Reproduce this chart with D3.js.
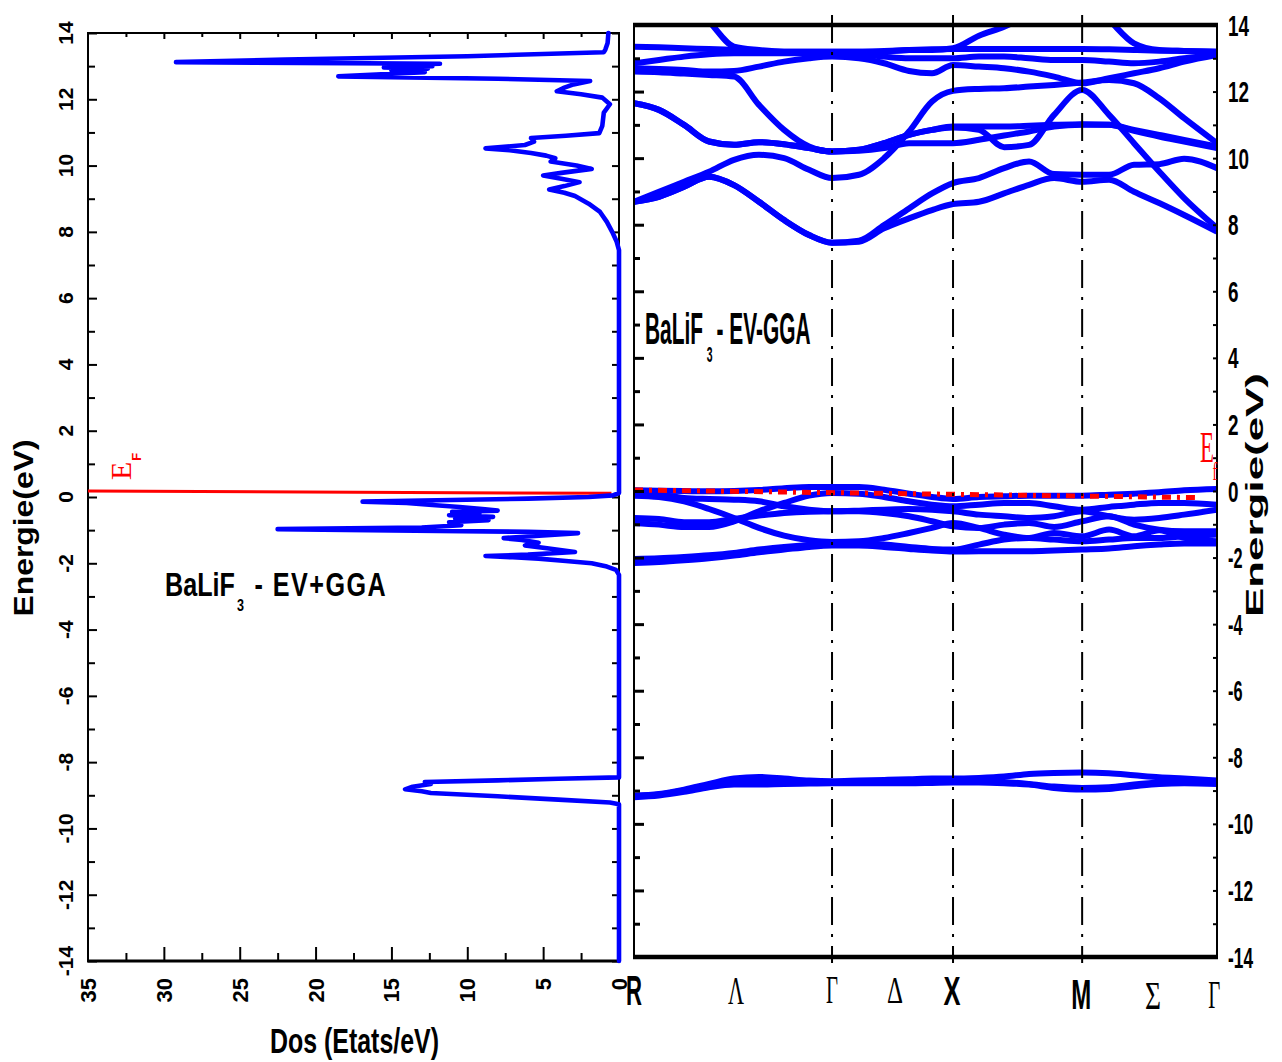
<!DOCTYPE html>
<html><head><meta charset="utf-8">
<script src="https://cdn.jsdelivr.net/npm/d3@7"></script>
<style>body{margin:0;background:#fff}svg{display:block}</style>
</head><body>
<svg id="chart" width="1282" height="1062"></svg>
<script>
// ================= DATA =================
// Left panel : density of states (E in eV, DOS in states/eV)
const dosEnergy = [14.0,13.7,13.5,13.42,13.3,13.2,13.12,13.07,13.03,13.0,12.96,12.92,12.87,12.82,12.75,12.69,12.62,12.55,12.45,12.35,12.24,12.15,12.05,11.85,11.6,11.2,10.98,10.9,10.83,10.72,10.62,10.52,10.46,10.38,10.3,10.22,10.12,10.0,9.9,9.78,9.7,9.6,9.5,9.38,9.28,9.18,9.08,8.85,8.6,8.3,8.0,7.7,7.45,
  0.12,0.05,0.0,-0.05,-0.1,-0.14,-0.18,-0.24,-0.3,-0.36,-0.41,-0.45,-0.5,-0.55,-0.6,-0.65,-0.7,-0.76,-0.85,-0.92,-0.97,-1.01,-1.05,-1.09,-1.16,-1.24,-1.3,-1.38,-1.46,-1.56,-1.66,-1.74,-1.78,-1.82,-1.86,-1.93,-2.0,-2.1,-2.2,-2.35,
  -8.46,-8.5,-8.55,-8.6,-8.66,-8.74,-8.82,-8.88,-8.93,-9.03,-9.13,-9.22,-9.27,-14.0];
const dosValue = [0.7,0.75,0.9,1.0,10,22,29.2,11.8,15.2,12.3,15.5,12.6,15.0,12.8,16.0,18.5,8.0,1.9,3.0,3.6,4.1,2.5,1.1,0.6,1.0,1.1,1.3,3.5,5.8,5.6,6.2,8.8,7.2,5.8,4.8,4.2,4.5,2.8,1.8,3.8,5.0,3.8,2.6,3.6,4.6,3.6,2.9,2.0,1.25,0.8,0.45,0.15,0.0,
  0.0,0.4,2.0,6.0,12.0,16.9,14.0,12.3,10.5,9.0,8.0,11.0,9.2,11.2,8.3,10.8,8.6,11.2,10.4,13.0,22.5,15.0,6.0,2.7,5.0,7.6,6.4,5.3,6.2,4.5,2.9,6.0,8.8,7.0,5.3,3.5,1.8,0.8,0.2,0.0,
  0.0,4.0,8.0,12.8,12.4,13.6,14.1,13.0,12.4,8.0,4.0,0.6,0.0,0.0];
const fermiDos = [35, 0.5];
const fermiDosE = [0.18, 0.11];
const dosTicks = [35, 30, 25, 20, 15, 10, 5, 0];
const energyTicks = [14, 12, 10, 8, 6, 4, 2, 0, -2, -4, -6, -8, -10, -12, -14];

// Right panel : band structure along R-Λ-Γ-Δ-X-M-Σ-Γ
const kSymPos = [0, 1.0, 1.611, 2.263, 2.944];            // R, Γ, X, M, Γ
const kLabels = ["R", "Λ", "Γ", "Δ", "X", "M", "Σ", "Γ"];
const kLabelPos = [0, 0.515, 1.0, 1.318, 1.606, 2.258, 2.621, 2.93];
const kGrid = [0,0.126,0.253,0.379,0.505,0.631,0.758,0.884,1.0,1.136,1.263,1.389,1.505,1.611,1.742,1.869,1.995,2.121,2.263,2.399,2.525,2.652,2.778,2.944];

// conduction bands
const cb1 = [8.69,8.84,9.14,9.44,9.19,8.69,8.14,7.69,7.46,7.49,7.89,8.19,8.44,8.62,8.69,8.94,9.2,9.4,9.29,9.35,8.99,8.65,8.29,7.79];
const cb2 = [8.69,8.84,9.14,9.44,9.19,8.69,8.14,7.69,7.46,7.52,7.99,8.49,8.94,9.25,9.4,9.7,9.9,9.52,9.5,9.5,9.8,9.82,9.98,9.7];
const cb3 = [8.69,8.99,9.29,9.59,9.95,10.1,10.0,9.65,9.4,9.5,10.0,10.8,11.7,12.02,12.08,12.1,12.15,12.2,12.27,12.35,12.25,11.8,11.2,10.45];
const cb4 = [11.65,11.45,11.0,10.5,10.4,10.48,10.42,10.3,10.2,10.25,10.45,10.7,10.85,10.92,10.85,10.33,10.4,11.3,12.05,11.3,10.45,9.6,8.8,7.9];
const cb5 = [12.6,12.58,12.54,12.5,12.45,11.6,10.85,10.35,10.2,10.22,10.3,10.45,10.45,10.45,10.55,10.68,10.8,10.95,11.0,11.0,10.85,10.7,10.55,10.35];
const cb6 = [11.65,11.45,11.0,10.5,10.4,10.48,10.42,10.3,10.2,10.25,10.45,10.7,10.85,10.95,10.95,10.95,10.97,11.0,11.02,11.0,10.82,10.65,10.5,10.3];
const cb7 = [13.35,13.33,13.3,13.28,13.25,13.22,13.2,13.2,13.2,13.2,13.22,13.25,13.27,13.28,13.28,13.28,13.28,13.28,13.28,13.27,13.25,13.23,13.22,13.2];
const cb8 = [12.85,12.95,13.05,13.12,13.15,13.15,13.15,13.15,13.15,13.12,13.05,13.0,13.0,13.0,13.05,13.05,13.0,12.95,12.95,12.9,12.85,12.9,13.0,13.1];
const cb9 = [12.7,12.68,12.65,12.6,12.62,12.75,12.9,13.0,13.05,13.0,12.85,12.62,12.55,12.8,12.75,12.7,12.6,12.45,12.25,12.4,12.55,12.7,12.9,13.1];
const cb10 = [16.2,15.5,14.8,14.1,13.35,13.25,13.2,13.2,13.2,13.2,13.2,13.25,13.25,13.3,13.68,13.95,14.3,14.7,15.1,15.5,15.9,16.3,16.7,17.0];
const cb11 = [15.5,15.5,15.5,15.5,15.5,15.5,15.5,15.5,15.5,15.5,15.5,15.5,15.5,15.5,15.5,15.5,15.5,15.5,14.9,14.15,13.45,13.25,13.22,13.2];
// valence bands
const vb1 = [0.02,0.01,0.0,-0.01,0.0,0.03,0.08,0.12,0.12,0.12,0.04,-0.08,-0.18,-0.24,-0.18,-0.16,-0.14,-0.14,-0.14,-0.11,-0.08,-0.04,0.02,0.06];
const vb2 = [-0.96,-1.01,-1.08,-1.08,-0.91,-0.61,-0.36,-0.14,-0.06,-0.08,-0.18,-0.31,-0.41,-0.46,-0.41,-0.36,-0.36,-0.46,-0.56,-0.48,-0.41,-0.36,-0.36,-0.41];
const vb3 = [-0.06,-0.11,-0.21,-0.24,-0.26,-0.31,-0.46,-0.56,-0.61,-0.59,-0.56,-0.54,-0.56,-0.61,-0.71,-0.76,-0.81,-0.76,-0.61,-0.76,-0.86,-0.81,-0.71,-0.56];
const vb4 = [-0.81,-0.84,-0.94,-0.94,-0.84,-0.74,-0.66,-0.62,-0.61,-0.61,-0.66,-0.76,-0.91,-1.06,-1.11,-1.01,-0.96,-1.08,-0.91,-0.76,-1.01,-1.16,-1.21,-1.21];
const vb5 = [-0.14,-0.18,-0.31,-0.54,-0.81,-1.11,-1.34,-1.48,-1.53,-1.51,-1.41,-1.26,-1.11,-0.96,-1.11,-1.31,-1.41,-1.26,-1.36,-1.16,-1.36,-1.18,-1.41,-1.51];
const vb6 = [-2.04,-2.02,-1.98,-1.93,-1.86,-1.76,-1.68,-1.62,-1.58,-1.58,-1.61,-1.68,-1.74,-1.76,-1.61,-1.46,-1.41,-1.46,-1.51,-1.46,-1.41,-1.41,-1.36,-1.31];
const vb7 = [-2.16,-2.13,-2.08,-2.02,-1.94,-1.84,-1.76,-1.68,-1.64,-1.64,-1.68,-1.74,-1.79,-1.82,-1.81,-1.81,-1.81,-1.79,-1.76,-1.73,-1.66,-1.61,-1.58,-1.58];
// semi-core bands
const sc1 = [-9.15,-9.10,-8.97,-8.80,-8.64,-8.59,-8.64,-8.70,-8.72,-8.70,-8.68,-8.66,-8.64,-8.64,-8.62,-8.58,-8.50,-8.47,-8.46,-8.48,-8.54,-8.60,-8.64,-8.70];
const sc2 = [-9.20,-9.15,-9.04,-8.90,-8.82,-8.82,-8.80,-8.79,-8.78,-8.78,-8.78,-8.78,-8.77,-8.76,-8.76,-8.78,-8.82,-8.92,-8.97,-8.95,-8.87,-8.80,-8.78,-8.80];
const sc3 = [-9.17,-9.12,-9.00,-8.84,-8.72,-8.70,-8.72,-8.74,-8.74,-8.74,-8.73,-8.72,-8.70,-8.70,-8.72,-8.74,-8.80,-8.88,-8.92,-8.90,-8.82,-8.76,-8.74,-8.76];
const fermiBandK = [0, 2.86];
const fermiBandE = [0.03, -0.2];

const bands = [cb1,cb2,cb3,cb4,cb5,cb6,cb7,cb8,cb9,cb10,cb11,vb1,vb2,vb3,vb4,vb5,vb6,vb7,sc1,sc2,sc3];

// ================= DRAWING =================
const svg = d3.select("#chart");
const SANS = "'Liberation Sans', Arial, sans-serif";
const SERIF = "'Liberation Serif', 'Times New Roman', serif";
const BLUE = "#0000ff", RED = "#ff0000";

// ---------- left panel (DOS) ----------
const xL = d3.scaleLinear().domain([35, 0]).range([88, 619]);
const yL = d3.scaleLinear().domain([14, -14]).range([33, 961]);
const allE = d3.range(-14, 15, 1);
const evenE = allE.filter(v => v % 2 === 0), oddE = allE.filter(v => v % 2 !== 0);

function ticks(g, axis, w) { g.call(axis); g.select(".domain").remove(); g.selectAll("line").attr("stroke", "#000").attr("stroke-width", w || 2); }

svg.append("g").attr("transform", "translate(88,0)").call(ticks, d3.axisRight(yL).tickValues(evenE).tickSize(9).tickFormat(""));
svg.append("g").attr("transform", "translate(88,0)").call(ticks, d3.axisRight(yL).tickValues(oddE).tickSize(7).tickFormat(""));
svg.append("g").attr("transform", "translate(619,0)").call(ticks, d3.axisLeft(yL).tickValues(allE).tickSize(7).tickFormat(""));
const dosMajor = [30, 25, 20, 15, 10, 5], dosMinor = [32.5, 27.5, 22.5, 17.5, 12.5, 7.5, 2.5];
svg.append("g").attr("transform", "translate(0,33)").call(ticks, d3.axisBottom(xL).tickValues(dosMajor).tickSize(6).tickFormat(""));
svg.append("g").attr("transform", "translate(0,33)").call(ticks, d3.axisBottom(xL).tickValues(dosMinor).tickSize(4).tickFormat(""));
svg.append("g").attr("transform", "translate(0,961)").call(ticks, d3.axisTop(xL).tickValues(dosMajor).tickSize(14).tickFormat(""));
svg.append("g").attr("transform", "translate(0,961)").call(ticks, d3.axisTop(xL).tickValues(dosMinor).tickSize(8).tickFormat(""));

// frame
svg.append("line").attr("x1", 88).attr("x2", 88).attr("y1", 32).attr("y2", 962).attr("stroke", "#000").attr("stroke-width", 2);
svg.append("line").attr("x1", 87).attr("x2", 620).attr("y1", 33).attr("y2", 33).attr("stroke", "#000").attr("stroke-width", 2);
svg.append("line").attr("x1", 87).attr("x2", 620).attr("y1", 961).attr("y2", 961).attr("stroke", "#000").attr("stroke-width", 3);
svg.append("line").attr("x1", 619).attr("x2", 619).attr("y1", 32).attr("y2", 962).attr("stroke", "#000").attr("stroke-width", 2);

// red fermi line
svg.append("path")
  .datum(d3.zip(fermiDos, fermiDosE))
  .attr("d", d3.line().x(d => xL(d[0])).y(d => yL(d[1])))
  .attr("stroke", RED).attr("stroke-width", 3).attr("fill", "none");

// DOS curve
svg.append("path")
  .datum(d3.zip(dosValue, dosEnergy))
  .attr("d", d3.line().x(d => xL(d[0])).y(d => yL(d[1])))
  .attr("stroke", BLUE).attr("stroke-width", 4.6).attr("fill", "none")
  .attr("stroke-linejoin", "round").attr("stroke-linecap", "round");

// left tick labels
svg.append("g").selectAll("text").data(energyTicks).join("text")
  .attr("transform", d => `translate(73,${yL(d)}) rotate(-90)`)
  .attr("text-anchor", "middle").attr("font-family", SANS).attr("font-weight", "bold")
  .attr("font-size", 21).text(d => d);
svg.append("g").selectAll("text").data(dosTicks).join("text")
  .attr("transform", d => `translate(${xL(d) + 8},978) rotate(-90)`)
  .attr("text-anchor", "end").attr("font-family", SANS).attr("font-weight", "bold")
  .attr("font-size", 22).text(d => d);

// titles
svg.append("text").attr("transform", "translate(33,528) rotate(-90)")
  .attr("text-anchor", "middle").attr("font-family", SANS).attr("font-weight", "bold")
  .attr("font-size", 27).attr("textLength", 177).attr("lengthAdjust", "spacingAndGlyphs")
  .text("Energie(eV)");
svg.append("text").attr("x", 270).attr("y", 1053)
  .attr("font-family", SANS).attr("font-weight", "bold").attr("font-size", 35)
  .attr("textLength", 169).attr("lengthAdjust", "spacingAndGlyphs").text("Dos (Etats/eV)");

// label with subscript in ONE text element, horizontally condensed with scale
function subLabel(x, y, sx, size, main, sub, subSize, subDy, rest, opts) {
  opts = opts || {};
  const t = svg.append("text")
    .attr("transform", `translate(${x},${y}) scale(${sx},1)`)
    .attr("font-family", opts.fam || SANS).attr("font-weight", opts.fam === SERIF ? "normal" : "bold")
    .attr("font-size", size).attr("fill", opts.col || "#000");
  t.append("tspan").text(main);
  t.append("tspan").attr("font-size", subSize).attr("dy", subDy).attr("dx", opts.subDx || 0).text(sub);
  if (rest) t.append("tspan").attr("dy", -subDy).attr("dx", opts.restDx || 0)
    .attr("letter-spacing", opts.ls || 0).text(rest);
  return t;
}
subLabel(165, 596, 0.74, 34, "BaLiF", "3", 17, 15, "- EV+GGA", {ls: 2, subDx: 3, restDx: 14});
subLabel(645, 344, 0.475, 44, "BaLiF", "3", 22, 18, "- EV-GGA", {subDx: 8, restDx: 8});

// E_F (left)
const efL = svg.append("text").attr("transform", "translate(131,480) rotate(-90)")
  .attr("font-family", SERIF).attr("font-size", 30).attr("fill", RED);
efL.append("tspan").text("E");
efL.append("tspan").attr("font-family", SANS).attr("font-weight", "bold").attr("font-size", 13)
  .attr("dy", 10).attr("dx", 1).text("F");

// ---------- right panel (bands) ----------
const xK = d3.scaleLinear().domain([0, 2.944]).range([634, 1217]);
const yR = d3.scaleLinear().domain([14, -14]).range([25, 957]);

svg.append("defs").append("clipPath").attr("id", "bclip")
  .append("rect").attr("x", 634).attr("y", 25).attr("width", 583).attr("height", 932);

const bandLine = d3.line().x((d, i) => xK(kGrid[i])).y(d => yR(d)).curve(d3.curveMonotoneX);
svg.append("g").attr("clip-path", "url(#bclip)").selectAll("path").data(bands).join("path")
  .attr("d", d => bandLine(d)).attr("fill", "none").attr("stroke", BLUE).attr("stroke-width", 6)
  .attr("stroke-linejoin", "round");

// Fermi level (dotted)
svg.append("path").datum(d3.zip(fermiBandK, fermiBandE))
  .attr("d", d3.line().x(d => xK(d[0])).y(d => yR(d[1])))
  .attr("stroke", RED).attr("stroke-width", 5).attr("fill", "none")
  .attr("stroke-dasharray", "9,6,3,6");

// high-symmetry vertical lines
svg.append("g").selectAll("line").data(kSymPos.slice(1, 4)).join("line")
  .attr("x1", d => xK(d)).attr("x2", d => xK(d)).attr("y1", 15).attr("y2", 963)
  .attr("stroke", "#000").attr("stroke-width", 2).attr("stroke-dasharray", "28,9,3,9");

// ticks right panel
svg.append("g").attr("transform", "translate(634,0)").call(ticks, d3.axisRight(yR).tickValues(evenE).tickSize(10).tickFormat(""), 3);
svg.append("g").attr("transform", "translate(634,0)").call(ticks, d3.axisRight(yR).tickValues(oddE).tickSize(6).tickFormat(""), 3);
svg.append("g").attr("transform", "translate(1217,0)").call(ticks, d3.axisLeft(yR).tickValues(allE).tickSize(4).tickFormat(""));

// frame right panel
svg.append("line").attr("x1", 634).attr("x2", 634).attr("y1", 23).attr("y2", 959).attr("stroke", "#000").attr("stroke-width", 2);
svg.append("line").attr("x1", 1217).attr("x2", 1217).attr("y1", 23).attr("y2", 959).attr("stroke", "#000").attr("stroke-width", 2);
svg.append("line").attr("x1", 633).attr("x2", 1218).attr("y1", 25).attr("y2", 25).attr("stroke", "#000").attr("stroke-width", 4.5);
svg.append("line").attr("x1", 633).attr("x2", 1218).attr("y1", 957).attr("y2", 957).attr("stroke", "#000").attr("stroke-width", 4.5);

// right tick labels
svg.append("g").selectAll("text").data(energyTicks).join("text")
  .attr("x", 1228).attr("y", d => yR(d) + 10.5)
  .attr("font-family", SANS).attr("font-weight", "bold").attr("font-size", 30)
  .attr("textLength", d => String(Math.abs(d)).length * 10.5 + (d < 0 ? 4 : 0))
  .attr("lengthAdjust", "spacingAndGlyphs").text(d => d);

// right title
svg.append("text").attr("transform", "translate(1263,495) rotate(-90)")
  .attr("text-anchor", "middle").attr("font-family", SANS).attr("font-weight", "bold")
  .attr("font-size", 24).attr("textLength", 244).attr("lengthAdjust", "spacingAndGlyphs")
  .text("Energie(eV)");

// k labels
const kStyle = [
  {f: SANS, s: 42, w: 16, y: 1005}, {f: SERIF, s: 40, w: 16, y: 1004}, {f: SERIF, s: 40, w: 12, y: 1003},
  {f: SERIF, s: 38, w: 16, y: 1003}, {f: SANS, s: 40, w: 17, y: 1005}, {f: SANS, s: 42, w: 20, y: 1009},
  {f: SERIF, s: 40, w: 16, y: 1009}, {f: SERIF, s: 40, w: 12, y: 1008}];
svg.append("g").selectAll("text").data(kLabels).join("text")
  .attr("x", (d, i) => xK(kLabelPos[i]) - kStyle[i].w / 2).attr("y", (d, i) => kStyle[i].y)
  .attr("font-family", (d, i) => kStyle[i].f).attr("font-weight", (d, i) => kStyle[i].f === SANS ? "bold" : "normal")
  .attr("font-size", (d, i) => kStyle[i].s).attr("textLength", (d, i) => kStyle[i].w)
  .attr("lengthAdjust", "spacingAndGlyphs").text(d => d);

// E_f (right)
subLabel(1200, 462, 0.52, 44, "E", "f", 26, 18, null, {fam: SERIF, col: RED, subDx: -3});
</script>
</body></html>
